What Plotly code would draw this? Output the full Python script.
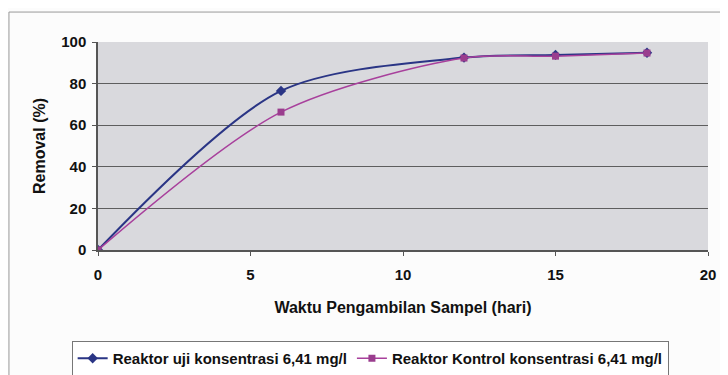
import plotly.graph_objects as go

days = [0, 6, 12, 15, 18]
uji = [0, 76.5, 92.5, 93.8, 94.8]
kontrol = [0, 66.3, 92.3, 93.2, 94.7]
x_ticks = [0, 5, 10, 15, 20]
y_ticks = [0, 20, 40, 60, 80, 100]

FONT = "Liberation Sans, Arial, sans-serif"

fig = go.Figure()
fig.add_trace(go.Scatter(
    x=days, y=uji, mode="lines+markers",
    name="Reaktor uji konsentrasi 6,41 mg/l",
    line=dict(color="#2a3585", width=2, shape="spline", smoothing=0.85),
    marker=dict(symbol="diamond", size=8, color="#2a3585"),
))
fig.add_trace(go.Scatter(
    x=days, y=kontrol, mode="lines+markers",
    name="Reaktor Kontrol konsentrasi 6,41 mg/l",
    line=dict(color="#a8409c", width=1.5, shape="spline", smoothing=0.85),
    marker=dict(symbol="square", size=7, color="#9a3d8e"),
))

fig.update_layout(
    width=720, height=367,
    margin=dict(l=90, r=18, t=34, b=125),
    paper_bgcolor="#fcfcfc",
    plot_bgcolor="#d9d9dd",
    font=dict(family=FONT, size=14, color="#111"),
    showlegend=True,
    legend=dict(
        orientation="h", xref="container", yref="container",
        x=0.503, y=0.045, xanchor="center", yanchor="middle",
        bordercolor="#777", borderwidth=1, bgcolor="#ffffff",
        font=dict(family=FONT, size=15, color="#111", weight="bold"),
        tracegroupgap=0,
    ),
    shapes=[dict(type="rect", xref="paper", yref="paper",
                 x0=-0.146, x1=1.023, y0=-0.75, y1=1.144,
                 line=dict(color="#999", width=1), layer="below")],
)
fig.update_xaxes(
    range=[0, 20], tickvals=x_ticks, showgrid=False, zeroline=False,
    showline=True, linecolor="#555", linewidth=1.5,
    ticks="outside", ticklen=4, tickcolor="#555", ticklabelstandoff=6,
    tickfont=dict(family=FONT, size=15, color="#111", weight="bold"),
    title=dict(text="Waktu Pengambilan Sampel (hari)",
               font=dict(family=FONT, size=16, color="#111", weight="bold"),
               standoff=20),
)
fig.update_yaxes(
    range=[0, 100], tickvals=y_ticks, showgrid=True, gridcolor="#5e5e5e",
    gridwidth=1, zeroline=False,
    showline=True, linecolor="#555", linewidth=1.5,
    ticks="outside", ticklen=4, tickcolor="#555", ticklabelstandoff=3,
    tickfont=dict(family=FONT, size=15, color="#111", weight="bold"),
    title=dict(text="Removal (%)",
               font=dict(family=FONT, size=16, color="#111", weight="bold"),
               standoff=12),
)

fig.write_html("out.html")
